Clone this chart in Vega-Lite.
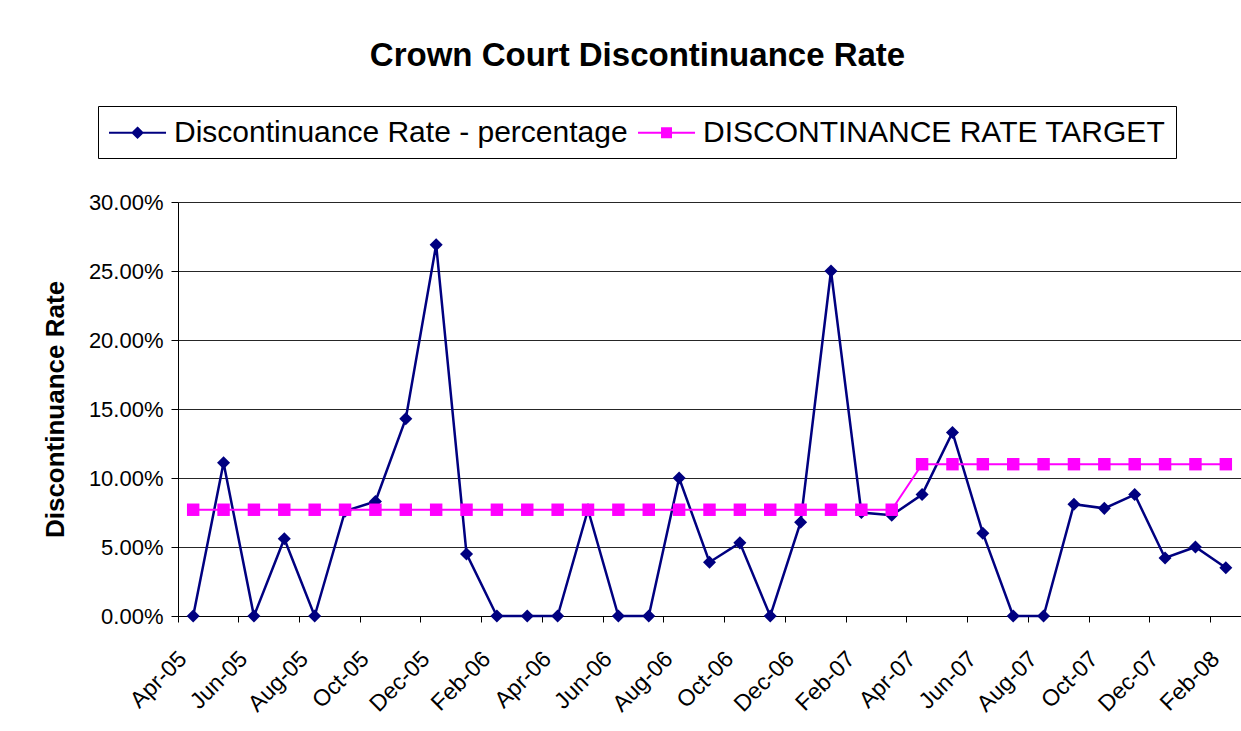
{
  "$schema": "https://vega.github.io/schema/vega-lite/v6.json",
  "width": 1063,
  "height": 414,
  "autosize": {"type": "none"},
  "padding": {"left": 178, "top": 202, "right": 0, "bottom": 115},
  "background": "white",
  "title": {
    "text": "Crown Court Discontinuance Rate",
    "fontSize": 33,
    "font": "Liberation Sans",
    "fontWeight": "bold",
    "color": "black",
    "anchor": "middle",
    "frame": "group",
    "dx": -72,
    "offset": 33
  },
  "data": {
    "values": [
      {"month": "Apr-05", "rate": 0.0, "target": 0.077},
      {"month": "May-05", "rate": 0.111, "target": 0.077},
      {"month": "Jun-05", "rate": 0.0, "target": 0.077},
      {"month": "Jul-05", "rate": 0.056, "target": 0.077},
      {"month": "Aug-05", "rate": 0.0, "target": 0.077},
      {"month": "Sep-05", "rate": 0.076, "target": 0.077},
      {"month": "Oct-05", "rate": 0.083, "target": 0.077},
      {"month": "Nov-05", "rate": 0.143, "target": 0.077},
      {"month": "Dec-05", "rate": 0.269, "target": 0.077},
      {"month": "Jan-06", "rate": 0.045, "target": 0.077},
      {"month": "Feb-06", "rate": 0.0, "target": 0.077},
      {"month": "Mar-06", "rate": 0.0, "target": 0.077},
      {"month": "Apr-06", "rate": 0.0, "target": 0.077},
      {"month": "May-06", "rate": 0.077, "target": 0.077},
      {"month": "Jun-06", "rate": 0.0, "target": 0.077},
      {"month": "Jul-06", "rate": 0.0, "target": 0.077},
      {"month": "Aug-06", "rate": 0.1, "target": 0.077},
      {"month": "Sep-06", "rate": 0.039, "target": 0.077},
      {"month": "Oct-06", "rate": 0.053, "target": 0.077},
      {"month": "Nov-06", "rate": 0.0, "target": 0.077},
      {"month": "Dec-06", "rate": 0.068, "target": 0.077},
      {"month": "Jan-07", "rate": 0.25, "target": 0.077},
      {"month": "Feb-07", "rate": 0.075, "target": 0.077},
      {"month": "Mar-07", "rate": 0.073, "target": 0.077},
      {"month": "Apr-07", "rate": 0.088, "target": 0.11},
      {"month": "May-07", "rate": 0.133, "target": 0.11},
      {"month": "Jun-07", "rate": 0.06, "target": 0.11},
      {"month": "Jul-07", "rate": 0.0, "target": 0.11},
      {"month": "Aug-07", "rate": 0.0, "target": 0.11},
      {"month": "Sep-07", "rate": 0.081, "target": 0.11},
      {"month": "Oct-07", "rate": 0.078, "target": 0.11},
      {"month": "Nov-07", "rate": 0.088, "target": 0.11},
      {"month": "Dec-07", "rate": 0.042, "target": 0.11},
      {"month": "Jan-08", "rate": 0.05, "target": 0.11},
      {"month": "Feb-08", "rate": 0.035, "target": 0.11}
    ]
  },
  "encoding": {
    "x": {
      "field": "month",
      "type": "ordinal",
      "scale": {
        "type": "band",
        "paddingInner": 0,
        "paddingOuter": 0,
        "domain": ["Apr-05","May-05","Jun-05","Jul-05","Aug-05","Sep-05","Oct-05","Nov-05","Dec-05","Jan-06","Feb-06","Mar-06","Apr-06","May-06","Jun-06","Jul-06","Aug-06","Sep-06","Oct-06","Nov-06","Dec-06","Jan-07","Feb-07","Mar-07","Apr-07","May-07","Jun-07","Jul-07","Aug-07","Sep-07","Oct-07","Nov-07","Dec-07","Jan-08","Feb-08"]
      },
      "axis": {
        "title": null,
        "bandPosition": 0,
        "values": ["Apr-05","Jun-05","Aug-05","Oct-05","Dec-05","Feb-06","Apr-06","Jun-06","Aug-06","Oct-06","Dec-06","Feb-07","Apr-07","Jun-07","Aug-07","Oct-07","Dec-07","Feb-08"],
        "labelAngle": -45,
        "labelAlign": "right",
        "labelBaseline": "middle",
        "labelFont": "Liberation Sans",
        "labelFontSize": 23,
        "labelColor": "black",
        "labelPadding": 33,
        "labelOffset": -10,
        "labelOverlap": false,
        "labelBound": false,
        "tickColor": "black",
        "tickSize": 6,
        "domainColor": "black",
        "grid": false
      }
    }
  },
  "layer": [
    {
      "mark": {"type": "line", "strokeWidth": 2.5},
      "encoding": {
        "y": {
          "field": "rate",
          "type": "quantitative",
          "title": "Discontinuance Rate",
          "scale": {"domain": [0, 0.3]},
          "axis": {
            "values": [0, 0.05, 0.1, 0.15, 0.2, 0.25, 0.3],
            "format": ".2%",
            "labelFont": "Liberation Sans",
            "labelFontSize": 22,
            "labelColor": "black",
            "labelPadding": 8,
            "tickColor": "black",
            "tickSize": 7,
            "domainColor": "black",
            "grid": true,
            "gridColor": "black",
            "gridOpacity": 0.85,
            "titleFont": "Liberation Sans",
            "titleFontSize": 26,
            "titleFontWeight": "bold",
            "titleColor": "black",
            "titlePadding": 20
          }
        },
        "color": {
          "datum": "Discontinuance Rate - percentage",
          "scale": {
            "domain": ["Discontinuance Rate - percentage", "DISCONTINANCE RATE TARGET"],
            "range": ["#000080", "#FF00FF"]
          },
          "legend": {
            "title": null,
            "orient": "none",
            "legendX": -80,
            "legendY": -96,
            "direction": "horizontal",
            "strokeColor": "black",
            "padding": 10,
            "symbolSize": 961,
            "symbolStrokeWidth": 2,
            "labelOffset": 33,
            "columnPadding": 6,
            "labelFont": "Liberation Sans",
            "labelFontSize": 30,
            "labelColor": "black",
            "labelLimit": 800,
            "labelBaseline": "middle",
            "encode": {
              "symbols": {
                "update": {
                  "shape": {"signal": "datum.value === 'Discontinuance Rate - percentage' ? 'M-1,0L2.68,0M0.84,-0.32L1.16,0L0.84,0.32L0.52,0Z' : 'M-1,0L2.68,0M0.55,-0.29L1.13,-0.29L1.13,0.29L0.55,0.29Z'"},
                  "fill": {"signal": "datum.value === 'Discontinuance Rate - percentage' ? '#000080' : '#FF00FF'"},
                  "stroke": {"signal": "datum.value === 'Discontinuance Rate - percentage' ? '#000080' : '#FF00FF'"},
                  "strokeWidth": {"value": 2},
                  "opacity": {"value": 1},
                  "fillOpacity": {"value": 1}
                }
              }
            }
          }
        }
      }
    },
    {
      "mark": {"type": "point", "filled": true, "shape": "diamond", "size": 170, "opacity": 1},
      "encoding": {
        "y": {"field": "rate", "type": "quantitative", "title": "Discontinuance Rate"},
        "color": {"datum": "Discontinuance Rate - percentage"}
      }
    },
    {
      "mark": {"type": "line", "strokeWidth": 2},
      "encoding": {
        "y": {"field": "target", "type": "quantitative", "title": "Discontinuance Rate"},
        "color": {"datum": "DISCONTINANCE RATE TARGET"}
      }
    },
    {
      "mark": {"type": "point", "filled": true, "shape": "square", "size": 155, "opacity": 1},
      "encoding": {
        "y": {"field": "target", "type": "quantitative", "title": "Discontinuance Rate"},
        "color": {"datum": "DISCONTINANCE RATE TARGET"}
      }
    }
  ],
  "config": {
    "view": {"stroke": null}
  }
}
